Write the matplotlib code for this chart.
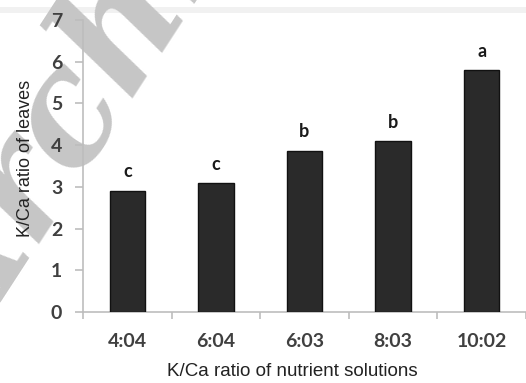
import matplotlib
matplotlib.use("Agg")
import matplotlib.pyplot as plt
from matplotlib.patches import Rectangle

categories = ["4:04", "6:04", "6:03", "8:03", "10:02"]
values = [2.91, 3.09, 3.87, 4.10, 5.80]
letters = ["c", "c", "b", "b", "a"]
yticks = [0, 1, 2, 3, 4, 5, 6, 7]

W, H = 526, 383
fig = plt.figure(figsize=(W / 100, H / 100), dpi=100)
fig.patch.set_facecolor("white")

# light band at the top
fig.patches.append(Rectangle((0, 1 - 13 / H), 1, 6 / H, transform=fig.transFigure,
                             facecolor="#f1f1f1", edgecolor="none", zorder=-3))

# watermark (behind the chart)
fig.text(-62 / W, 1 - 338 / H, "Archive", fontsize=112, family="DejaVu Serif",
         style="italic", weight="bold", color="#c6c6c6", rotation=57,
         rotation_mode="anchor", ha="left", va="center", zorder=-2)

ax_left, ax_right = 83 / W, 1.0
ax_bottom, ax_top = 1 - 312 / H, 1 - 20 / H
ax = fig.add_axes([ax_left, ax_bottom, ax_right - ax_left, ax_top - ax_bottom])
ax.patch.set_alpha(0)

x = list(range(len(categories)))
ax.bar(x, values, width=0.4, color="#2a2a2a", edgecolor="#111111", linewidth=1.0, zorder=3)

for xi, v, l in zip(x, values, letters):
    ax.text(xi, v + 0.32, l, ha="center", va="baseline", fontsize=13,
            family="Lato", weight="bold", color="#1a1a1a")

ax.set_xlim(-0.5, (W - 83) / 91 - 0.5)
ax.set_ylim(0, 7)
ax.set_yticks(yticks)
ax.set_yticklabels([str(t) for t in yticks])
ax.set_xticks(x)
ax.set_xticklabels(categories)
ax.set_xticks([i + 0.5 for i in range(-1, len(categories))], minor=True)

for s in ["top", "right"]:
    ax.spines[s].set_visible(False)
for s in ["left", "bottom"]:
    ax.spines[s].set_color("#bdbdbd")
    ax.spines[s].set_linewidth(1.2)

ax.tick_params(axis="y", length=6, width=1.2, color="#bdbdbd", pad=9,
               labelsize=14, labelcolor="#404040")
ax.tick_params(axis="x", which="major", length=0, pad=15, labelsize=14, labelcolor="#404040")
ax.tick_params(axis="x", which="minor", length=5, width=1.2, color="#bdbdbd")
for lab in ax.get_xticklabels() + ax.get_yticklabels():
    lab.set_family("Lato")
    lab.set_weight("bold")

fig.text(292 / W, 1 - 372 / H, "K/Ca ratio of nutrient solutions", ha="center", va="center",
         fontsize=13.5, family="Liberation Sans", color="#222222")
fig.text(26 / W, 1 - 158 / H, "K/Ca ratio of leaves", ha="center", va="center",
         rotation=90, fontsize=13, family="Liberation Sans", color="#222222")

fig.savefig("out.png", dpi=100, facecolor="white")
